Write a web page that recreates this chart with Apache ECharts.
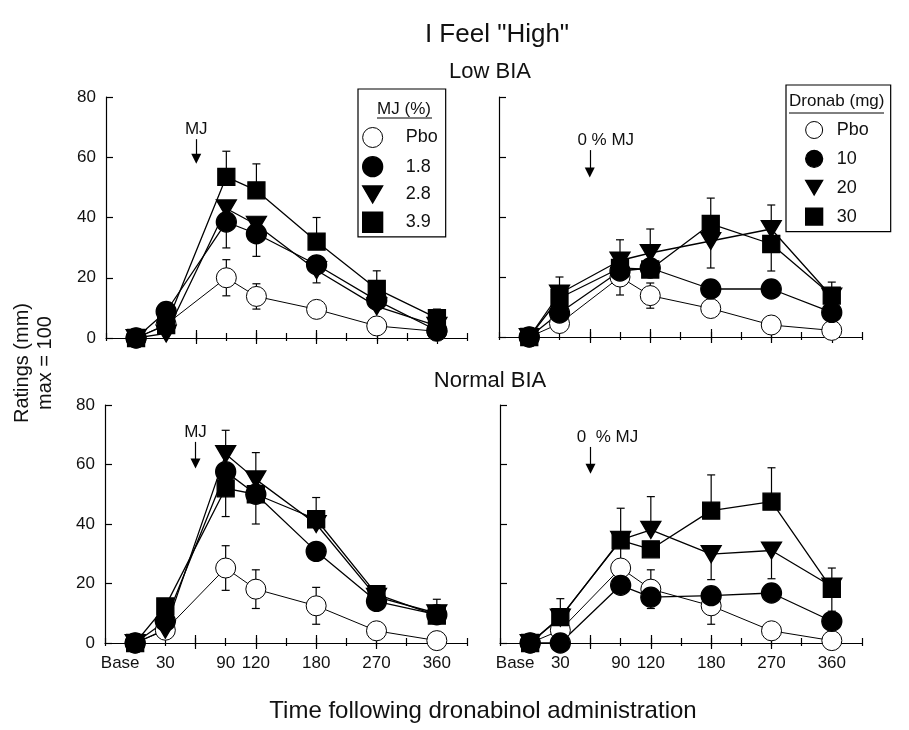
<!DOCTYPE html>
<html>
<head>
<meta charset="utf-8">
<script src="https://cdn.jsdelivr.net/npm/echarts@6/dist/echarts.min.js"></script>
<style>
  html, body { margin: 0; padding: 0; background: #fff; }
  #chart { width: 909px; height: 730px; }
</style>
</head>
<body>
<div id="chart"></div>
<script>
// axis slots (13 positions, ticks at each) and the time points that sit on them
const axisCategories = ['', 'Base', '30', '', '90', '120', '', '180', '', '270', '', '360', ''];
const timePoints = ['Base', '30', '90', '120', '180', '270', '360'];

// Low BIA - marijuana
const lowPbo = [0, 4.5, 20, 13.8, 9.5, 4, 2.2];
const low18 = [0, 8.8, 38.5, 34.6, 24.3, 12.5, 2.5];
const low28 = [0, 1.5, 43, 37.6, 22.5, 10.5, 4];
const low39 = [0, 4.3, 53.5, 49, 32, 16.3, 6.6];
// Low BIA - dronabinol
const lowD10 = [0, 8, 22, 23, 16, 16, 8.2];
const lowD20 = [0, 14.5, 25.5, 28, 32, 36, 13.5];
const lowD30 = [0, 13, 23, 22.5, 37.7, 31, 13.8];
// Normal BIA - marijuana
const normPbo = [0, 4.3, 25.2, 18.1, 12.5, 4.1, 0.8];
const norm18 = [0, 7.3, 57.6, 50, 30.8, 14, 9.5];
const norm28 = [0, 4.5, 63.5, 55, 40, 15.5, 10];
const norm39 = [0, 12.3, 52, 50, 41.6, 16.4, 9.2];
// Normal BIA - dronabinol
const normD10 = [0, 0, 19.4, 15.4, 15.9, 16.8, 7.3];
const normD20 = [0, 8.5, 34.7, 38, 29.9, 31.1, 19];
const normD30 = [0, 8.7, 34.5, 31.5, 44.5, 47.5, 18.2];

// error bars (SEM), up / down
const lowPboUp = [0, 0, 6, 4.2, 0, 0, 0];
const lowPboDn = [0, 0, 6, 4.2, 0, 0, 0];
const low18Dn = [0, 0, 8.6, 7.5, 0, 0, 0];
const low28Dn = [0, 0, 0, 0, 4.2, 0, 0];
const low39Up = [0, 0, 8.5, 8.8, 8, 6, 3];
const lowD20Up = [0, 0, 0, 8, 0, 8, 0];
const lowD20Dn = [0, 0, 0, 0, 9, 0, 0];
const lowD30Up = [0, 7, 9.4, 0, 8.6, 0, 4.5];
const lowD30Dn = [0, 0, 0, 0, 0, 9, 0];
const normPboUp = [0, 0, 7.5, 6.5, 6.2, 0, 2];
const normPboDn = [0, 0, 7.5, 6.5, 6.2, 0, 1];
const norm28Up = [0, 0, 8, 9, 0, 0, 0];
const norm39Up = [0, 0, 0, 0, 7.3, 0, 5.5];
const norm39Dn = [0, 0, 9.5, 10, 0, 0, 0];
const normD20Up = [0, 0, 0, 11.2, 0, 0, 0];
const normD20Dn = [0, 0, 0, 0, 8.6, 9.5, 0];
const normD30Up = [0, 6.2, 10.8, 0, 12, 11.4, 7];
const normD30Dn = [0, 0, 0, 0, 0, 0, 7.5];

const mjNames = ['Pbo', '1.8', '2.8', '3.9'];
const dronabNames = ['Pbo', '10', '20', '30'];

const FONT = 'Liberation Sans, Arial, sans-serif';
const slots = timePoints.map(t => axisCategories.indexOf(t));
const TRI = 'path://M0,0L20,0L10,17Z';

const markers = [
  { symbol: 'circle', size: 20, fill: '#fff', width: 1 },
  { symbol: 'circle', size: 20, fill: '#000', width: 1.3 },
  { symbol: TRI, size: [20, 17], fill: '#000', width: 1.3 },
  { symbol: 'rect', size: 17, fill: '#000', width: 1.3 }
];

const panels = [
  { names: mjNames, vals: [lowPbo, low18, low28, low39],
    up: [lowPboUp, null, null, low39Up], dn: [lowPboDn, low18Dn, low28Dn, null],
    arrow: { y0: 66, y1: 59.5, text: 'MJ', shift: 0 } },
  { names: dronabNames, vals: [lowPbo, lowD10, lowD20, lowD30],
    up: [lowPboUp, null, lowD20Up, lowD30Up], dn: [lowPboDn, null, lowD20Dn, lowD30Dn],
    arrow: { y0: 62.3, y1: 54.8, text: '0 % MJ', shift: 32 } },
  { names: mjNames, vals: [normPbo, norm18, norm28, norm39],
    up: [normPboUp, null, norm28Up, norm39Up], dn: [normPboDn, null, null, norm39Dn],
    arrow: { y0: 67.6, y1: 60.3, text: 'MJ', shift: 0 } },
  { names: dronabNames, vals: [normPbo, normD10, normD20, normD30],
    up: [normPboUp, null, normD20Up, normD30Up], dn: [normPboDn, null, normD20Dn, normD30Dn],
    arrow: { y0: 65.9, y1: 58.6, text: '0  % MJ', shift: 34 } }
];

const grids = [
  { left: 106, top: 97, width: 361, height: 241 },
  { left: 499, top: 97, width: 363, height: 240 },
  { left: 105, top: 405, width: 362, height: 238 },
  { left: 500, top: 405, width: 362, height: 238 }
];

const black = { color: '#000', width: 1.2 };
const odd = (i) => i % 2 === 1;

function xAxesFor(g, showLabels) {
  const base = { gridIndex: g, type: 'category', data: axisCategories, boundaryGap: false,
    position: 'bottom', splitLine: { show: false } };
  const hidden = { axisLine: { show: false }, axisLabel: { show: false } };
  return [
    Object.assign({}, base, {
      axisLine: { lineStyle: black },
      axisTick: { interval: 0, length: 3, lineStyle: black },
      axisLabel: {
        show: showLabels, interval: 0, margin: 12, color: '#111', fontSize: 17, fontFamily: FONT,
        formatter: v => v === 'Base' ? '{b|Base}' : v,
        rich: { b: { fontSize: 17, fontFamily: FONT, color: '#111', padding: [0, 30, 0, 0] } }
      }
    }),
    Object.assign({}, base, hidden, { axisTick: { inside: true, interval: 0, length: 5, lineStyle: black } }),
    Object.assign({}, base, hidden, { axisTick: { interval: odd, length: 6, lineStyle: black } }),
    Object.assign({}, base, hidden, { axisTick: { inside: true, interval: odd, length: 8, lineStyle: black } })
  ];
}

function yAxisFor(g, showLabels) {
  return {
    gridIndex: g, type: 'value', min: 0, max: 80, interval: 20,
    axisLine: { show: true, lineStyle: black },
    axisTick: { show: true, inside: true, length: 7, lineStyle: black },
    axisLabel: { show: showLabels, margin: 10, color: '#111', fontSize: 17, fontFamily: FONT },
    splitLine: { show: false }
  };
}

function renderErr(params, api) {
  const x = api.value(0), y = api.value(1), up = api.value(2), dn = api.value(3);
  const c = api.coord([x, y]);
  const st = { stroke: '#000', lineWidth: 1.2 };
  const kids = [];
  [[up, 1], [dn, -1]].forEach(([d, s]) => {
    if (d > 0) {
      const e = api.coord([x, y + s * d]);
      kids.push({ type: 'line', shape: { x1: c[0], y1: c[1], x2: e[0], y2: e[1] }, style: st });
      kids.push({ type: 'line', shape: { x1: e[0] - 4, y1: e[1], x2: e[0] + 4, y2: e[1] }, style: st });
    }
  });
  return { type: 'group', children: kids };
}

const xAxis = [], yAxis = [], series = [];
panels.forEach((p, g) => {
  xAxis.push(...xAxesFor(g, g >= 2));
  yAxis.push(yAxisFor(g, g % 2 === 0));
  const xi = g * 4;
  // error bars under the markers
  p.vals.forEach((vals, k) => {
    const rows = [];
    vals.forEach((v, i) => {
      const u = p.up[k] ? p.up[k][i] : 0;
      const d = p.dn[k] ? p.dn[k][i] : 0;
      if (u > 0 || d > 0) rows.push([slots[i], v, u, d]);
    });
    if (rows.length) {
      series.push({
        type: 'custom', xAxisIndex: xi, yAxisIndex: g, z: 1, silent: true,
        renderItem: renderErr, encode: { x: 0, y: 1 }, data: rows
      });
    }
  });
  p.vals.forEach((vals, k) => {
    const m = markers[k];
    const s = {
      name: p.names[k], type: 'line', xAxisIndex: xi, yAxisIndex: g, z: 2,
      data: vals.map((v, i) => [slots[i], v]),
      symbol: m.symbol, symbolSize: m.size, showSymbol: true, showAllSymbol: true,
      itemStyle: { color: m.fill, borderColor: '#000', borderWidth: m.width },
      lineStyle: { color: '#000', width: k === 0 ? 1 : 1.3 },
      emphasis: { disabled: true }
    };
    if (k === 0) {
      const a = p.arrow;
      s.markLine = {
        silent: true, symbol: ['none', 'triangle'], symbolSize: 10, animation: false,
        lineStyle: { color: '#000', width: 1.2, type: 'solid' },
        label: {
          show: true, position: 'start', distance: 1,
          formatter: '{a|' + a.text + '}',
          rich: { a: { fontSize: 17, fontFamily: FONT, color: '#111', padding: [0, 0, 0, a.shift] } }
        },
        data: [[{ coord: [3, a.y0] }, { coord: [3, a.y1] }]]
      };
    }
    series.push(s);
  });
});

function legendFor(names, o) {
  return {
    orient: 'vertical', left: o.left, top: o.top, padding: o.padding,
    itemWidth: o.icon, itemHeight: o.icon, itemGap: o.gap,
    borderColor: '#000', borderWidth: 1.2, selectedMode: false,
    formatter: '{t|{name}}',
    textStyle: { rich: { t: { fontSize: 18, fontFamily: FONT, color: '#111', padding: [0, 0, 0, o.textPad] } } },
    data: names.map((n, k) => ({
      name: n, icon: markers[k].symbol,
      itemStyle: { color: markers[k].fill, borderColor: '#000', borderWidth: markers[k].width }
    }))
  };
}

const txt = (x, y, text, size, extra) => Object.assign({
  type: 'text', x: x, y: y, silent: true,
  style: { text: text, font: size + 'px ' + FONT, fill: '#111',
    textAlign: 'center', textVerticalAlign: 'middle', align: 'center', verticalAlign: 'middle' }
}, extra || {});

const option = {
  animation: false,
  backgroundColor: '#fff',
  grid: grids,
  xAxis: xAxis,
  yAxis: yAxis,
  legend: [
    legendFor(mjNames, { left: 358, top: 89, padding: [38, 8, 4, 4], icon: 20, gap: 8, textPad: 18 }),
    legendFor(dronabNames, { left: 786, top: 85, padding: [36, 22, 6, 19], icon: 17, gap: 10.7, textPad: 9 })
  ],
  graphic: [
    txt(497, 35, 'I Feel "High"', 26),
    txt(490, 72, 'Low BIA', 22),
    txt(490, 381, 'Normal BIA', 22),
    txt(483, 711, 'Time following dronabinol administration', 24),
    txt(22, 363, 'Ratings (mm)', 20, { rotation: Math.PI / 2 }),
    txt(45, 363, 'max = 100', 20, { rotation: Math.PI / 2 }),
    txt(404, 109, 'MJ (%)', 17),
    { type: 'line', silent: true, shape: { x1: 377, y1: 118, x2: 432, y2: 118 }, style: { stroke: '#000', lineWidth: 1 } },
    { type: 'text', x: 789, y: 101, silent: true,
      style: { text: 'Dronab (mg)', font: '17px ' + FONT, fill: '#111',
        textAlign: 'left', textVerticalAlign: 'middle', align: 'left', verticalAlign: 'middle' } },
    { type: 'line', silent: true, shape: { x1: 789, y1: 113, x2: 884, y2: 113 }, style: { stroke: '#000', lineWidth: 1 } }
  ],
  series: series
};

const chart = echarts.init(document.getElementById('chart'), null, { renderer: 'canvas' });
chart.setOption(option);
</script>
</body>
</html>
